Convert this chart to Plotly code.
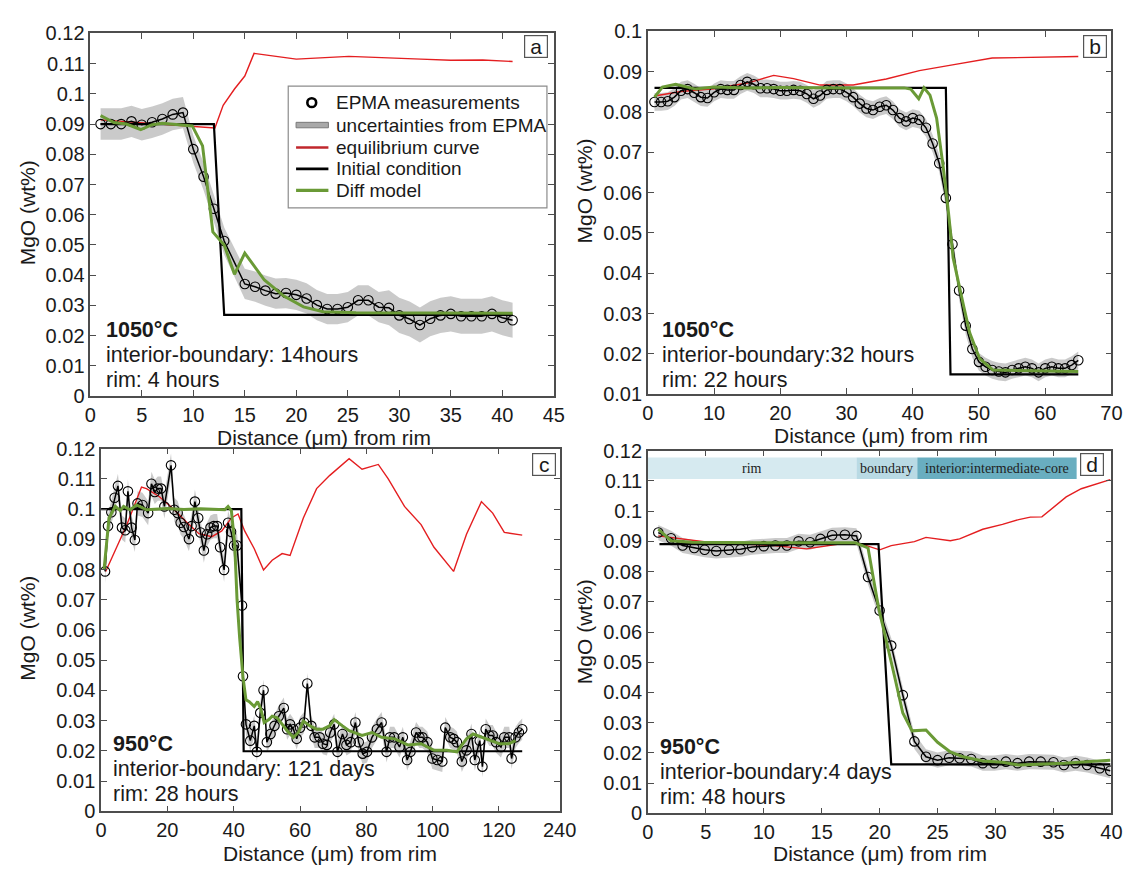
import plotly.graph_objects as go

W, H = 1148, 876

# ---------------- Panel a : 1050 °C, short profile ----------------
a_dist = [1, 2, 3, 4, 5, 6, 7, 8, 9, 10, 11, 12, 13, 15, 16, 17, 18, 19, 20, 21,
          22, 23, 24, 25, 26, 27, 28, 29, 30, 31, 32, 33, 34, 35, 36, 37, 38, 39, 40, 41]
a_mgo = [0.0900, 0.0900, 0.0900, 0.0909, 0.0898, 0.0906, 0.0917, 0.0932, 0.0938, 0.0817,
         0.0726, 0.0620, 0.0513, 0.0371, 0.0362, 0.0349, 0.0339, 0.0341, 0.0335, 0.0323,
         0.0301, 0.0288, 0.0288, 0.0294, 0.0317, 0.0317, 0.0294, 0.0292, 0.0267, 0.0255,
         0.0235, 0.0256, 0.0267, 0.0272, 0.0264, 0.0264, 0.0264, 0.0272, 0.0259, 0.0251]
a_err = [0.0052] * 9 + [0.0045] * 4 + [0.0050] * 14 + [0.0058] * 13
a_eq_x = [1, 5, 12.1, 12.9, 14.0, 15.0, 15.9, 20.0, 25.1, 32.1, 35.0, 38.1, 41.0]
a_eq_y = [0.0914, 0.0905, 0.0887, 0.0962, 0.1016, 0.1059, 0.1134, 0.1115, 0.1124,
          0.1115, 0.1111, 0.1112, 0.1107]
a_init_x = [1, 12.0, 13.0, 41]
a_init_y = [0.0900, 0.0900, 0.0269, 0.0269]
a_mod_x = [1.0, 2.3, 3.5, 4.9, 6.0, 7.0, 9.9, 10.9, 11.9, 13.0, 14.0, 15.0, 16.9,
           18.8, 20.7, 22.6, 25.8, 41.0]
a_mod_y = [0.0928, 0.0905, 0.0900, 0.0882, 0.0898, 0.0903, 0.0894, 0.0828, 0.0543,
           0.0500, 0.0403, 0.0473, 0.0384, 0.0331, 0.0295, 0.0279, 0.0276, 0.0274]

# ---------------- Panel b : 1050 °C, long profile ----------------
b_dist = list(range(1, 66))
b_mgo = [0.0825, 0.0825, 0.0827, 0.0837, 0.0853, 0.0857, 0.0848, 0.0837, 0.0835, 0.0849,
         0.0857, 0.0855, 0.0855, 0.0867, 0.0875, 0.0869, 0.0859, 0.0859, 0.0857, 0.0853,
         0.0853, 0.0855, 0.0853, 0.0845, 0.0833, 0.0841, 0.0855, 0.0857, 0.0857, 0.0849,
         0.0837, 0.0821, 0.0809, 0.0805, 0.0813, 0.0817, 0.0805, 0.0785, 0.0777, 0.0785,
         0.0781, 0.0761, 0.0722, 0.0673, 0.0587, 0.0472, 0.0357, 0.0270, 0.0212, 0.0180,
         0.0168, 0.0160, 0.0156, 0.0154, 0.0160, 0.0164, 0.0168, 0.0164, 0.0154, 0.0164,
         0.0168, 0.0164, 0.0164, 0.0172, 0.0184]
b_err = [0.0022] * 65
b_eq_x = [1, 5, 10, 15, 19, 22, 26, 31, 36, 41, 46, 52, 65]
b_eq_y = [0.0840, 0.0851, 0.0858, 0.0872, 0.0891, 0.0883, 0.0867, 0.0867, 0.0882,
          0.0903, 0.0917, 0.0934, 0.0938]
b_init_x = [1, 45.0, 45.7, 65]
b_init_y = [0.0860, 0.0860, 0.0149, 0.0149]
b_mod_x = [1.0, 2.2, 4.2, 7.2, 10, 15, 20, 25, 30, 35, 38.7, 39.7, 40.9, 41.7, 42.6,
           43.6, 44.6, 45.4, 46.1, 47.6, 48.6, 50.1, 52.1, 65]
b_mod_y = [0.0837, 0.0862, 0.0869, 0.0857, 0.0862, 0.0860, 0.0861, 0.0860, 0.0860,
           0.0860, 0.0860, 0.0857, 0.0833, 0.0860, 0.0842, 0.0785, 0.0664, 0.0550,
           0.0438, 0.0325, 0.0252, 0.0188, 0.0160, 0.0156]

# ---------------- Panel c : 950 °C, long profile ----------------
c_dist = [1.2, 2.1, 3.1, 4.1, 5.1, 6.3, 7.3, 8.1, 9.2, 10.2, 11.0, 12.5, 14.2, 15.2, 16.2,
          17.1, 18.1, 19.1, 21.1, 22.1, 23.1, 24.0, 25.0, 26.5, 27.3, 28.3, 29.3, 30.0,
          31.0, 32.0, 33.0, 34.0, 35.0, 35.9, 37.1, 38.3, 39.2, 40.1, 41.0, 42.5, 42.8,
          43.7, 45.0, 46.2, 47.0, 48.0, 49.0, 50.0, 51.1, 52.3, 53.6, 55.1, 56.1, 57.0,
          58.0, 59.0, 60.0, 61.2, 62.2, 63.4, 64.4, 65.9, 66.9, 68.1, 69.1, 70.3, 71.3,
          72.8, 74.0, 75.3, 76.7, 77.7, 78.9, 80.2, 81.7, 83.2, 84.6, 86.1, 87.1, 88.4,
          90.0, 91.0, 92.3, 93.3, 95.0, 96.0, 96.9, 98.4, 99.9, 101.4, 102.9, 103.8,
          105.3, 106.3, 107.3, 108.8, 110.2, 111.7, 112.7, 114.2, 115.0, 116.0, 117.1,
          118.1, 119.1, 120.6, 121.6, 123.1, 123.8, 125.0, 126.0, 127.0]
c_mgo = [0.0794, 0.0944, 0.0990, 0.1038, 0.1077, 0.0939, 0.0930, 0.1059, 0.0939, 0.0898,
         0.1019, 0.1014, 0.0987, 0.1084, 0.1057, 0.1068, 0.1068, 0.1009, 0.1145, 0.0998,
         0.0987, 0.0955, 0.0941, 0.0901, 0.0944, 0.1025, 0.0971, 0.0923, 0.0863, 0.0917,
         0.0939, 0.0944, 0.0944, 0.0874, 0.0799, 0.0955, 0.0925, 0.0880, 0.0880, 0.0681,
         0.0447, 0.0288, 0.0234, 0.0283, 0.0197, 0.0326, 0.0401, 0.0229, 0.0256, 0.0283,
         0.0315, 0.0342, 0.0272, 0.0288, 0.0272, 0.0240, 0.0277, 0.0294, 0.0423, 0.0283,
         0.0245, 0.0245, 0.0224, 0.0220, 0.0261, 0.0288, 0.0197, 0.0256, 0.0220, 0.0229,
         0.0294, 0.0229, 0.0191, 0.0197, 0.0245, 0.0272, 0.0294, 0.0197, 0.0245, 0.0245,
         0.0213, 0.0245, 0.0170, 0.0197, 0.0261, 0.0245, 0.0245, 0.0229, 0.0175, 0.0170,
         0.0165, 0.0277, 0.0245, 0.0240, 0.0229, 0.0165, 0.0202, 0.0256, 0.0170, 0.0234,
         0.0148, 0.0272, 0.0251, 0.0251, 0.0229, 0.0213, 0.0245, 0.0245, 0.0175, 0.0245,
         0.0261, 0.0272]
c_err = [0.0040] * 40 + [0.0035] * 72
c_eq_x = [1.4, 7.8, 12.2, 13.7, 17.6, 21.6, 25.5, 29.5, 33.4, 36.4, 39.3, 41.3, 43.3,
          46.2, 49.0, 51.6, 54.6, 57.0, 61.0, 65.0, 68.9, 74.8, 78.7, 83.6, 86.6, 91.5,
          96.5, 100.4, 106.3, 110.2, 114.7, 118.1, 121.6, 127.0]
c_eq_y = [0.0794, 0.0949, 0.1073, 0.1068, 0.1041, 0.1003, 0.0960, 0.0919, 0.0909,
          0.0928, 0.0971, 0.0984, 0.0928, 0.0869, 0.0799, 0.0831, 0.0853, 0.0847,
          0.0971, 0.1068, 0.1111, 0.1167, 0.1132, 0.1148, 0.1100, 0.1009, 0.0949,
          0.0874, 0.0794, 0.0917, 0.1025, 0.0987, 0.0923, 0.0914]
c_init_x = [0, 42.3, 43.0, 127]
c_init_y = [0.1000, 0.1000, 0.0199, 0.0199]
c_mod_x = [0.9, 1.7, 2.4, 4.3, 5.8, 6.8, 8.8, 10.7, 13.7, 20, 25, 30, 35, 37.3, 38.3,
           39.3, 40.3, 41.0, 41.8, 42.8, 43.7, 44.7, 46.2, 47.2, 48.2, 49.2, 50.6, 51.6,
           53.1, 54.6, 56.1, 58.0, 59.5, 61.0, 63.0, 65.0, 66.9, 68.9, 70.3, 72.8, 74.8,
           78.7, 81.7, 84.6, 88.6, 92.5, 96.5, 100.4, 104.3, 107.3, 110.2, 112.2, 116.2,
           120.1, 123.0, 125.0]
c_mod_y = [0.0799, 0.0906, 0.0971, 0.1009, 0.0995, 0.1009, 0.0998, 0.1014, 0.0998,
           0.1002, 0.0999, 0.1001, 0.0999, 0.0998, 0.1009, 0.0995, 0.0885, 0.0702,
           0.0573, 0.0444, 0.0369, 0.0363, 0.0347, 0.0363, 0.0337, 0.0294, 0.0304,
           0.0315, 0.0310, 0.0288, 0.0267, 0.0245, 0.0261, 0.0299, 0.0283, 0.0272,
           0.0272, 0.0283, 0.0304, 0.0283, 0.0267, 0.0251, 0.0261, 0.0245, 0.0240,
           0.0220, 0.0224, 0.0202, 0.0202, 0.0197, 0.0240, 0.0256, 0.0240, 0.0224,
           0.0224, 0.0234]

# ---------------- Panel d : 950 °C, short profile ----------------
d_dist = [0.9, 2.0, 3.0, 4.0, 4.9, 5.9, 7.0, 8.0, 9.0, 10.0, 11.0, 12.0, 13.0, 14.0,
          14.9, 15.9, 17.0, 18.0, 19.0, 20.0, 21.0, 22.0, 23.0, 24.0, 25.0, 26.0, 26.9,
          27.9, 28.9, 29.9, 30.9, 31.9, 32.9, 33.9, 35.0, 35.9, 36.9, 37.9, 39.0, 39.9]
d_mgo = [0.0929, 0.0910, 0.0886, 0.0878, 0.0872, 0.0868, 0.0872, 0.0874, 0.0881, 0.0884,
         0.0886, 0.0886, 0.0900, 0.0897, 0.0908, 0.0920, 0.0922, 0.0918, 0.0782, 0.0671,
         0.0555, 0.0391, 0.0238, 0.0187, 0.0176, 0.0184, 0.0182, 0.0180, 0.0166, 0.0166,
         0.0171, 0.0166, 0.0171, 0.0171, 0.0169, 0.0160, 0.0166, 0.0160, 0.0149, 0.0141]
d_err = [0.0025] * 40
d_eq_x = [0.9, 5.2, 10.9, 13.7, 16.5, 18.2, 20.0, 21.0, 23.0, 24.0, 26.1, 26.9, 28.9,
          30.6, 32.0, 33.0, 34.0, 35.1, 36.1, 37.4, 38.8, 39.9]
d_eq_y = [0.0918, 0.0897, 0.0886, 0.0875, 0.0891, 0.0894, 0.0872, 0.0886, 0.0899,
          0.0913, 0.0902, 0.0908, 0.0940, 0.0956, 0.0972, 0.0980, 0.0981, 0.1015,
          0.1047, 0.1074, 0.1090, 0.1104]
d_init_x = [1.0, 19.9, 21.0, 39.9]
d_init_y = [0.0891, 0.0891, 0.0162, 0.0162]
d_mod_x = [0.9, 2.0, 3.8, 10, 17.9, 19.0, 19.9, 20.6, 21.3, 22.0, 22.8, 24.0, 25.0,
           26.1, 27.2, 28.9, 30.6, 32.0, 35.9, 39.9]
d_mod_y = [0.0940, 0.0902, 0.0897, 0.0895, 0.0895, 0.0878, 0.0682, 0.0569, 0.0451,
           0.0332, 0.0273, 0.0276, 0.0235, 0.0203, 0.0187, 0.0173, 0.0169, 0.0160,
           0.0166, 0.0176]
d_zone_names = ["rim", "boundary", "interior:intermediate-core"]
d_zone_edges = [0, 18.0, 23.25, 37.0]
d_zone_colors = ["#d6eaf0", "#b9dae4", "#69aec0"]

panel_labels = ["a", "b", "c", "d"]
panel_notes = [
    ["1050°C", "interior-boundary: 14hours", "rim: 4 hours"],
    ["1050°C", "interior-boundary:32 hours", "rim: 22 hours"],
    ["950°C", "interior-boundary: 121 days", "rim: 28 hours"],
    ["950°C", "interior-boundary:4 days", "rim: 48 hours"],
]
legend_names = ["EPMA measurements", "uncertainties from EPMA", "equilibrium curve",
                "Initial condition", "Diff model"]

# ---------------- styling ----------------
FONT = "Liberation Sans, Arial, sans-serif"
RED = "#e41e20"
GREEN = "#6a9a36"
BAND = "rgba(196,196,196,0.9)"
AXC = "#4d4d4d"
TXT = "#1a1a1a"

# plot boxes in pixels: (left, right, top, bottom)
boxes = [(86, 559, 23, 395), (655, 1128, 21, 393), (97, 565, 449, 821), (655, 1128, 451, 823)]
xranges = [[0, 45], [0, 70], [0, 138.3], [0, 40]]
yranges = [[0, 0.12], [0.01, 0.1], [0, 0.12], [0, 0.12]]
xticks = [list(range(0, 46, 5)), list(range(0, 71, 10)), [0, 20, 40, 60, 80, 100, 120, 138.3],
          list(range(0, 41, 5))]
xticktext = [[str(v) for v in xticks[0]], [str(v) for v in xticks[1]],
             ["0", "20", "40", "60", "80", "100", "120", "240"], [str(v) for v in xticks[3]]]


def ytick_set(lo, hi):
    vals, txt = [], []
    k = round(lo * 100)
    while k <= round(hi * 100):
        v = k / 100
        vals.append(v)
        txt.append("0" if k == 0 else ("%g" % v))
        k += 1
    return vals, txt


def px_x(p):
    return p / W


def px_y(p):
    return 1 - p / H


datasets = [
    (a_dist, a_mgo, a_err, a_eq_x, a_eq_y, a_init_x, a_init_y, a_mod_x, a_mod_y),
    (b_dist, b_mgo, b_err, b_eq_x, b_eq_y, b_init_x, b_init_y, b_mod_x, b_mod_y),
    (c_dist, c_mgo, c_err, c_eq_x, c_eq_y, c_init_x, c_init_y, c_mod_x, c_mod_y),
    (d_dist, d_mgo, d_err, d_eq_x, d_eq_y, d_init_x, d_init_y, d_mod_x, d_mod_y),
]

fig = go.Figure()

for i, (xs, ys, es, ex, ey, ix, iy, mx, my) in enumerate(datasets):
    sfx = "" if i == 0 else str(i + 1)
    xa, ya = "x" + sfx, "y" + sfx
    upper = [y + e for y, e in zip(ys, es)]
    lower = [y - e for y, e in zip(ys, es)]
    fig.add_trace(go.Scatter(
        x=xs + xs[::-1], y=upper + lower[::-1], fill="toself", fillcolor=BAND,
        line=dict(width=0), mode="lines", hoverinfo="skip",
        name=legend_names[1], xaxis=xa, yaxis=ya))
    fig.add_trace(go.Scatter(
        x=ex, y=ey, mode="lines", line=dict(color=RED, width=1.4),
        name=legend_names[2], xaxis=xa, yaxis=ya))
    fig.add_trace(go.Scatter(
        x=ix, y=iy, mode="lines", line=dict(color="black", width=2.2),
        name=legend_names[3], xaxis=xa, yaxis=ya))
    fig.add_trace(go.Scatter(
        x=xs, y=ys, mode="lines+markers", line=dict(color="black", width=1.5),
        marker=dict(symbol="circle-open", size=9.5, color="black", line=dict(width=1.1)),
        name=legend_names[0], xaxis=xa, yaxis=ya))
    fig.add_trace(go.Scatter(
        x=mx, y=my, mode="lines", line=dict(color=GREEN, width=3),
        name=legend_names[4], xaxis=xa, yaxis=ya))

layout = dict(
    width=W, height=H, margin=dict(l=0, r=0, t=0, b=0),
    paper_bgcolor="white", plot_bgcolor="white",
    font=dict(family=FONT, size=20, color=TXT),
    showlegend=False,
)

for i, (l, r, t, b) in enumerate(boxes):
    sfx = "" if i == 0 else str(i + 1)
    yv, yt = ytick_set(*yranges[i])
    common = dict(showline=True, linecolor=AXC, linewidth=1.5, mirror="ticks",
                  ticks="inside", ticklen=6, tickwidth=1.3, tickcolor=AXC,
                  showgrid=False, zeroline=False,
                  tickfont=dict(family=FONT, size=20, color=TXT))
    layout["xaxis" + sfx] = dict(common, domain=[px_x(l), px_x(r)], range=xranges[i],
                                 anchor="y" + sfx, tickvals=xticks[i], ticktext=xticktext[i])
    layout["yaxis" + sfx] = dict(common, domain=[px_y(b), px_y(t)], range=yranges[i],
                                 anchor="x" + sfx, tickvals=yv, ticktext=yt)

fig.update_layout(**layout)

annotations = []
shapes = []

# axis titles
xtitle_pos = [(325, 437), (893, 435), (331, 864), (892, 864)]
ytitle_pos = [(22, 207), (590, 185), (22, 633), (590, 637)]
for (x, y) in xtitle_pos:
    annotations.append(dict(x=px_x(x), y=px_y(y), xref="paper", yref="paper",
                            text="Distance (μm) from rim", showarrow=False,
                            font=dict(family=FONT, size=21, color=TXT),
                            xanchor="center", yanchor="middle"))
for (x, y) in ytitle_pos:
    annotations.append(dict(x=px_x(x), y=px_y(y), xref="paper", yref="paper",
                            text="MgO (wt%)", showarrow=False, textangle=-90,
                            font=dict(family=FONT, size=21, color=TXT),
                            xanchor="center", yanchor="middle"))

# panel letters in boxes
letter_pos = [(541, 36), (1111, 36), (549, 465), (1108, 465)]
for lab, (x, y) in zip(panel_labels, letter_pos):
    annotations.append(dict(x=px_x(x), y=px_y(y), xref="paper", yref="paper",
                            text=lab, showarrow=False, width=20, height=19,
                            bordercolor="#555555", borderwidth=1.2, borderpad=1,
                            bgcolor="white",
                            font=dict(family=FONT, size=21, color=TXT),
                            xanchor="center", yanchor="middle"))

# run conditions
note_pos = [(100, [327, 353, 379]), (667, [327, 353, 379]),
            (107, [752, 778, 803]), (665, [755, 781, 806])]
for notes, (x, ys) in zip(panel_notes, note_pos):
    for j, (txt, y) in enumerate(zip(notes, ys)):
        annotations.append(dict(x=px_x(x), y=px_y(y), xref="paper", yref="paper",
                                text=("<b>%s</b>" % txt) if j == 0 else txt,
                                showarrow=False, xanchor="left", yanchor="middle",
                                font=dict(family=FONT, size=21.5, color=TXT)))

# legend box inside panel a
lg_l, lg_r, lg_t, lg_b = 288, 552, 77, 202
shapes.append(dict(type="rect", xref="paper", yref="paper",
                   x0=px_x(lg_l), x1=px_x(lg_r), y0=px_y(lg_b), y1=px_y(lg_t),
                   fillcolor="white", line=dict(color="#8c8c8c", width=1.2), layer="above"))
row_y = [94, 117, 140, 162, 184]
sym_l, sym_r, txt_x = 296, 329, 335
# circle symbol
shapes.append(dict(type="circle", xref="paper", yref="paper",
                   x0=px_x(307.5), x1=px_x(316.5), y0=px_y(row_y[0] + 4.5), y1=px_y(row_y[0] - 4.5),
                   line=dict(color="black", width=2.6), fillcolor="white", layer="above"))
# grey uncertainty bar
shapes.append(dict(type="rect", xref="paper", yref="paper",
                   x0=px_x(sym_l), x1=px_x(sym_r), y0=px_y(row_y[1] + 2.8), y1=px_y(row_y[1] - 2.8),
                   fillcolor="#a9a9a9", line=dict(color="#7a7a7a", width=1), layer="above"))
for ry, col, wd in [(row_y[2], "#c1272d", 2.6), (row_y[3], "black", 2.8), (row_y[4], GREEN, 3.2)]:
    shapes.append(dict(type="line", xref="paper", yref="paper",
                       x0=px_x(sym_l), x1=px_x(sym_r), y0=px_y(ry), y1=px_y(ry),
                       line=dict(color=col, width=wd), layer="above"))
for name, ry in zip(legend_names, row_y):
    annotations.append(dict(x=px_x(txt_x), y=px_y(ry), xref="paper", yref="paper",
                            text=name, showarrow=False, xanchor="left", yanchor="middle",
                            font=dict(family=FONT, size=19, color=TXT)))

# zone bar in panel d
for k, name in enumerate(d_zone_names):
    x0, x1 = d_zone_edges[k], d_zone_edges[k + 1]
    shapes.append(dict(type="rect", xref="x4", yref="y4", x0=x0, x1=x1,
                       y0=0.1106, y1=0.1177, fillcolor=d_zone_colors[k],
                       line=dict(width=0), layer="below"))
    annotations.append(dict(x=(x0 + x1) / 2, y=0.11415, xref="x4", yref="y4",
                            text=name, showarrow=False,
                            font=dict(family="Liberation Serif, Times New Roman, serif",
                                      size=14, color="#222222"),
                            xanchor="center", yanchor="middle"))

fig.update_layout(annotations=annotations, shapes=shapes)

fig.write_html("out.html")
